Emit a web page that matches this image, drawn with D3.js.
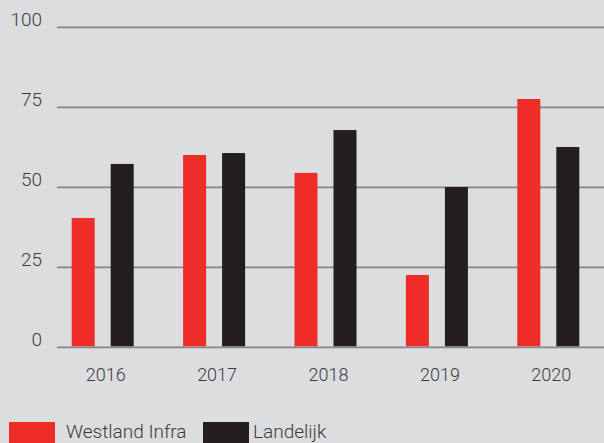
<!DOCTYPE html>
<html>
<head>
<meta charset="utf-8">
<script src="https://cdn.jsdelivr.net/npm/d3@7"></script>
<style>
  body { margin: 0; background: #dcdddf; }
  svg { display: block; }
  text { font-family: Roboto, "Noto Sans", sans-serif; font-weight: 300; fill: #3c3c3e; }
</style>
</head>
<body>
<div id="chart"></div>
<script>
var years = ["2016", "2017", "2018", "2019", "2020"];
var series = ["Westland Infra", "Landelijk"];
var westland = [40.4, 60.1, 54.5, 22.6, 77.6];
var landelijk = [57.3, 60.7, 67.9, 50.1, 62.6];
var yTicks = [0, 25, 50, 75, 100];
var colors = ["#ee2d29", "#231f20"];

var w = 604, h = 443;

var svg = d3.select("#chart").append("svg")
    .attr("width", w)
    .attr("height", h);

var rows = years.map(function(y, i) {
  return {year: y, values: [westland[i], landelijk[i]]};
});

var x = d3.scaleBand().domain(years).range([47, 604]).padding(0);
var x1 = d3.scaleBand().domain(series).range([0, 62]).paddingInner(0.41);
var y = d3.scaleLinear().domain([0, 100]).range([347.3, 27.3]);

// gridlines
svg.selectAll(".grid")
  .data(yTicks)
  .enter().append("line")
    .attr("class", "grid")
    .attr("x1", 57)
    .attr("x2", w)
    .attr("y1", function(d) { return y(d); })
    .attr("y2", function(d) { return y(d); })
    .style("stroke", "#858687")
    .style("stroke-width", 1.8);

// y labels
svg.selectAll(".ylab")
  .data(yTicks)
  .enter().append("text")
    .attr("class", "ylab")
    .attr("x", 42)
    .attr("y", function(d) { return y(d) - 1; })
    .attr("text-anchor", "end")
    .style("font-size", "19px")
    .text(function(d) { return d; });

// bars
var group = svg.selectAll(".year")
  .data(rows)
  .enter().append("g")
    .attr("class", "year")
    .attr("transform", function(d) { return "translate(" + (x(d.year) + (x.bandwidth() - 62) / 2) + ",0)"; });

group.selectAll("rect")
  .data(function(d) { return d.values.map(function(v, i) { return {key: series[i], value: v, i: i}; }); })
  .enter().append("rect")
    .attr("x", function(d) { return x1(d.key); })
    .attr("width", x1.bandwidth())
    .attr("y", function(d) { return y(d.value); })
    .attr("height", function(d) { return y(0) - 1 - y(d.value); })
    .style("fill", function(d) { return colors[d.i]; });

// x labels
svg.selectAll(".xlab")
  .data(years)
  .enter().append("text")
    .attr("class", "xlab")
    .attr("x", function(d) { return x(d) + x.bandwidth() / 2 + 3; })
    .attr("y", 381)
    .attr("text-anchor", "middle")
    .style("font-size", "18px")
    .text(function(d) { return d; });

// legend
var legX = [9, 203];
var legend = svg.selectAll(".legend")
  .data(series)
  .enter().append("g")
    .attr("class", "legend")
    .attr("transform", function(d, i) { return "translate(" + legX[i] + ",422)"; });

legend.append("rect")
    .attr("width", 46)
    .attr("height", 30)
    .style("fill", function(d, i) { return colors[i]; });

legend.append("text")
    .attr("x", function(d, i) { return i === 0 ? 57 : 50; })
    .attr("y", 16)
    .style("font-size", "19px")
    .text(function(d) { return d; });
</script>
</body>
</html>
